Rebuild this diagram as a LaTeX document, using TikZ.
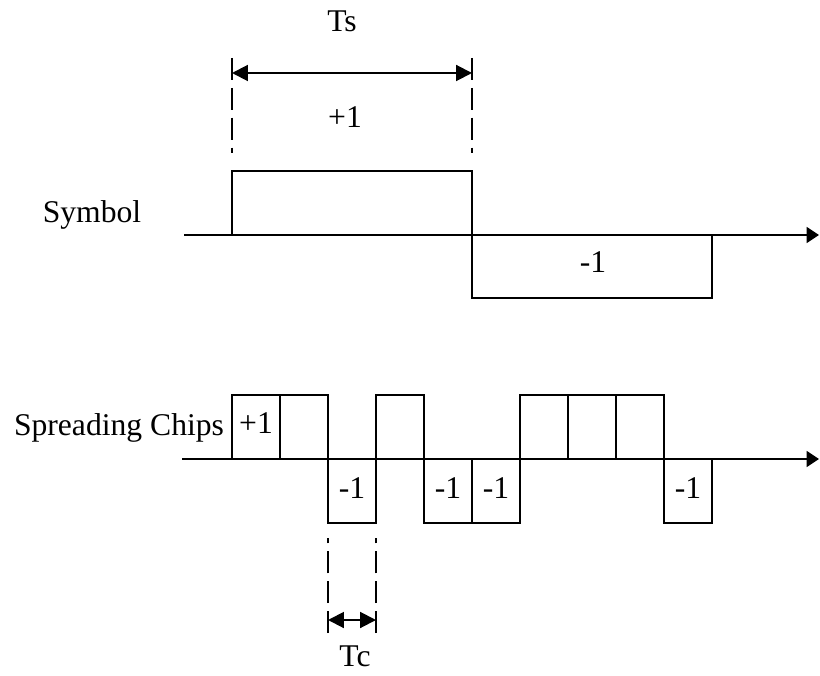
\documentclass[tikz,border=0pt]{standalone}
\usepackage{fontspec}
\setmainfont{Liberation Serif}
\usetikzlibrary{arrows.meta}
\tikzset{
  lbl/.style={font=\fontsize{18}{21}\selectfont,inner sep=0pt,anchor=base},
  guide/.style={dash pattern=on 12.5pt off 4.5pt},
  axis/.style={-{Triangle[length=7pt,width=9pt]}},
  dim/.style={{Triangle[length=9pt,width=9pt]}-{Triangle[length=9pt,width=9pt]}}
}
\begin{document}
\begin{tikzpicture}[x=0.02cm,y=-0.02cm,line width=1.15pt]
        \useasboundingbox (0,0) rectangle (820,675);
        % symbol
        \draw[axis] (184,235) -- (819,235);
        \draw (232,235) -- (232,171) -- (472,171) -- (472,298) -- (712,298) -- (712,235);
        \node[lbl] (sym) at (92,223) {Symbol};
        \node[lbl] (symP) at (345,128) {+1};
        \node[lbl] (symM) at (593,272) {-1};
        % Ts
        \coordinate (tsL) at (232,73);
        \coordinate (tsR) at (472,73);
        \foreach \x in {232,472} \draw[guide] (\x,58) -- (\x,153);
        \draw[dim] (tsL) -- (tsR);
        \node[lbl] (ts) at (342,32) {Ts};
        % chips
        \draw[axis] (182,459) -- (819,459);
        \foreach \v [count=\i from 0] in {1,1,-1,1,-1,-1,1,1,1,-1}
            \draw (232+48*\i,459) rectangle ++(48,{-64*(\v)});
        \node[lbl] (chips) at (119,435) {Spreading Chips};
        \node[lbl] (chP) at (256,433) {+1};
        \foreach \x/\n in {352/a,448/b,496/c,688/d} \node[lbl] (chM\n) at (\x,498) {-1};
        % Tc
        \coordinate (tcL) at (328,620);
        \coordinate (tcR) at (376,620);
        \foreach \x in {328,376} \draw[guide] (\x,633) -- (\x,538);
        \draw[dim] (tcL) -- (tcR);
        \node[lbl] (tc) at (355,666) {Tc};
\end{tikzpicture}
\end{document}
